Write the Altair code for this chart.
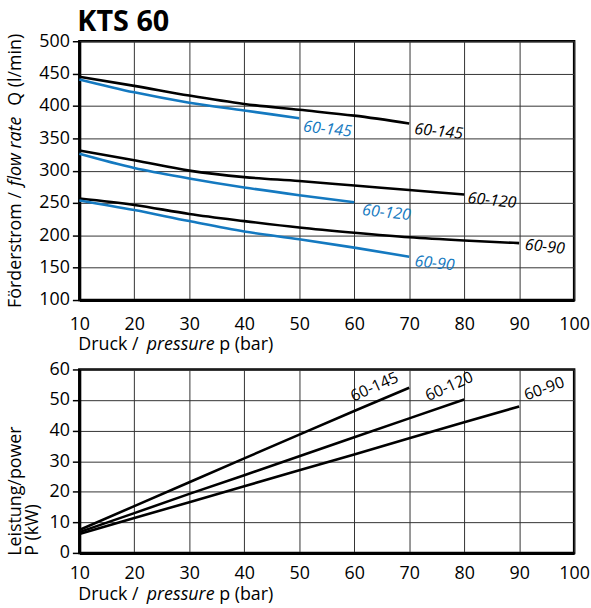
import altair as alt
import pandas as pd

# ---------------- data ----------------
pressure = [10, 20, 30, 40, 50, 60, 70, 80, 90]

series_names = ["60-145", "60-120", "60-90"]

flow_black = {
    "60-145": [445, 431, 416, 403, 394, 385, 373],
    "60-120": [331, 316, 300, 290, 284, 277, 270, 263],
    "60-90": [257, 247, 233, 222, 212, 204, 197, 192, 188],
}
flow_blue = {
    "60-145": [441, 421, 405, 393, 381],
    "60-120": [326, 304, 288, 274, 262, 251],
    "60-90": [254, 239, 222, 206, 194, 181, 167],
}
power = {
    "60-145": [7.5, 15.3, 23.1, 30.9, 38.7, 46.4, 54.0],
    "60-120": [6.8, 13.0, 19.3, 25.4, 31.6, 37.8, 44.0, 50.2],
    "60-90": [6.2, 11.4, 16.6, 21.8, 27.0, 32.2, 37.5, 42.7, 47.9],
}

x_ticks = [10, 20, 30, 40, 50, 60, 70, 80, 90, 100]
flow_ticks = [100, 150, 200, 250, 300, 350, 400, 450, 500]
power_ticks = [0, 10, 20, 30, 40, 50, 60]

# ---------------- tables ----------------
rows = []
for kind, dct in (("black", flow_black), ("blue", flow_blue)):
    for name in series_names:
        for p, v in zip(pressure, dct[name]):
            rows.append({"p": p, "v": v, "series": kind + " " + name, "kind": kind})
flow_df = pd.DataFrame(rows)

prow = []
for name in series_names:
    for p, v in zip(pressure, power[name]):
        prow.append({"p": p, "v": v, "series": name})
power_df = pd.DataFrame(prow)


def end_point(values, name):
    return pd.DataFrame({"p": [pressure[len(values) - 1]], "v": [values[-1]], "label": [name]})


FONT = "Open Sans"
BLACK = "#000000"
BLUE = "#1479c0"
W = 499
H1 = 261
H2 = 185
one = pd.DataFrame({"k": [0]})


def txt(s, x, y, **kw):
    return alt.Chart(one).mark_text(text=s, font=FONT, color=BLACK, **kw).encode(
        x=alt.value(x), y=alt.value(y)
    )


def x_enc(pad):
    return alt.X(
        "p:Q",
        scale=alt.Scale(domain=[10, 100], nice=False, zero=False),
        axis=alt.Axis(
            values=x_ticks, title=None, labelFontSize=18, labelFont=FONT, labelColor=BLACK,
            domainColor=BLACK, domainWidth=3, ticks=False, labelPadding=pad,
            gridColor="#333333", gridWidth=1, gridOpacity=1, labelFlush=False, format="d",
        ),
    )


def y_enc(domain, ticks):
    return alt.Y(
        "v:Q",
        scale=alt.Scale(domain=domain, nice=False, zero=False),
        axis=alt.Axis(
            values=ticks, title=None, labelFontSize=18, labelFont=FONT, labelColor=BLACK,
            domainColor=BLACK, domainWidth=3, ticks=True, tickSize=7, tickWidth=1.5,
            tickColor=BLACK, labelPadding=3, gridColor="#333333", gridWidth=1,
            gridOpacity=1, labelFlush=False, format="d",
        ),
    )


# ---------------- top panel: flow rate ----------------
flow_lines = alt.Chart(flow_df).mark_line(strokeWidth=2.6, interpolate="monotone").encode(
    x=x_enc(16),
    y=y_enc([100, 500], flow_ticks),
    detail="series:N",
    color=alt.Color("kind:N", scale=alt.Scale(domain=["black", "blue"], range=[BLACK, BLUE]), legend=None),
)

top_label_pos = {
    ("black", "60-145"): (6, 5),
    ("black", "60-120"): (4, 3),
    ("black", "60-90"): (6, 1),
    ("blue", "60-145"): (5, 8),
    ("blue", "60-120"): (9, 7),
    ("blue", "60-90"): (6, 4),
}
top_labels = []
for (kind, name), (dx, dy) in top_label_pos.items():
    vals = (flow_black if kind == "black" else flow_blue)[name]
    top_labels.append(
        alt.Chart(end_point(vals, name)).mark_text(
            align="left", baseline="middle", angle=6, dx=dx, dy=dy, font=FONT,
            fontSize=16, fontStyle="italic", color=BLACK if kind == "black" else BLUE,
        ).encode(x=x_enc(16), y=y_enc([100, 500], flow_ticks), text="label:N")
    )

XT1 = 50
top = alt.layer(
    flow_lines,
    *top_labels,
    txt("KTS 60", -2, -10, align="left", baseline="alphabetic", fontSize=29, fontWeight="bold"),
    txt("Förderstrom /", -64, 269, align="left", baseline="middle", angle=270, fontSize=18),
    txt("flow rate", -64, 146, align="left", baseline="middle", angle=270, fontSize=18, fontStyle="italic"),
    txt("Q (l/min)", -64, 65, align="left", baseline="middle", angle=270, fontSize=18),
    txt("Druck /", -1, H1 + XT1, align="left", baseline="alphabetic", fontSize=18),
    txt("pressure", 68, H1 + XT1, align="left", baseline="alphabetic", fontSize=18, fontStyle="italic"),
    txt("p (bar)", 141, H1 + XT1, align="left", baseline="alphabetic", fontSize=18),
).properties(width=W, height=H1)

# ---------------- bottom panel: power ----------------
power_lines = alt.Chart(power_df).mark_line(strokeWidth=2.6, color=BLACK).encode(
    x=x_enc(12), y=y_enc([0, 60], power_ticks), detail="series:N"
)

bottom_label_pos = {
    "60-145": (-57, -10, 336),
    "60-120": (-34, -13, 336),
    "60-90": (9, -3, 340),
}
bottom_labels = []
for name, (dx, dy, ang) in bottom_label_pos.items():
    bottom_labels.append(
        alt.Chart(end_point(power[name], name)).mark_text(
            align="left", baseline="alphabetic", angle=ang, dx=dx, dy=dy, font=FONT,
            fontSize=16, color=BLACK,
        ).encode(x=x_enc(12), y=y_enc([0, 60], power_ticks), text="label:N")
    )

XT2 = 48
bottom = alt.layer(
    power_lines,
    *bottom_labels,
    txt("Leistung/power", -64, 188, align="left", baseline="middle", angle=270, fontSize=18),
    txt("P (kW)", -47, 188, align="left", baseline="middle", angle=270, fontSize=18),
    txt("Druck /", -1, H2 + XT2, align="left", baseline="alphabetic", fontSize=18),
    txt("pressure", 68, H2 + XT2, align="left", baseline="alphabetic", fontSize=18, fontStyle="italic"),
    txt("p (bar)", 141, H2 + XT2, align="left", baseline="alphabetic", fontSize=18),
).properties(width=W, height=H2)

chart = (
    alt.vconcat(top, bottom, spacing=3)
    .properties(padding={"left": 5, "top": 4, "right": 0, "bottom": 0})
    .configure_view(stroke=BLACK, strokeWidth=2.5)
)

chart.save("out.html", embed_options={"renderer": "svg", "actions": False})
